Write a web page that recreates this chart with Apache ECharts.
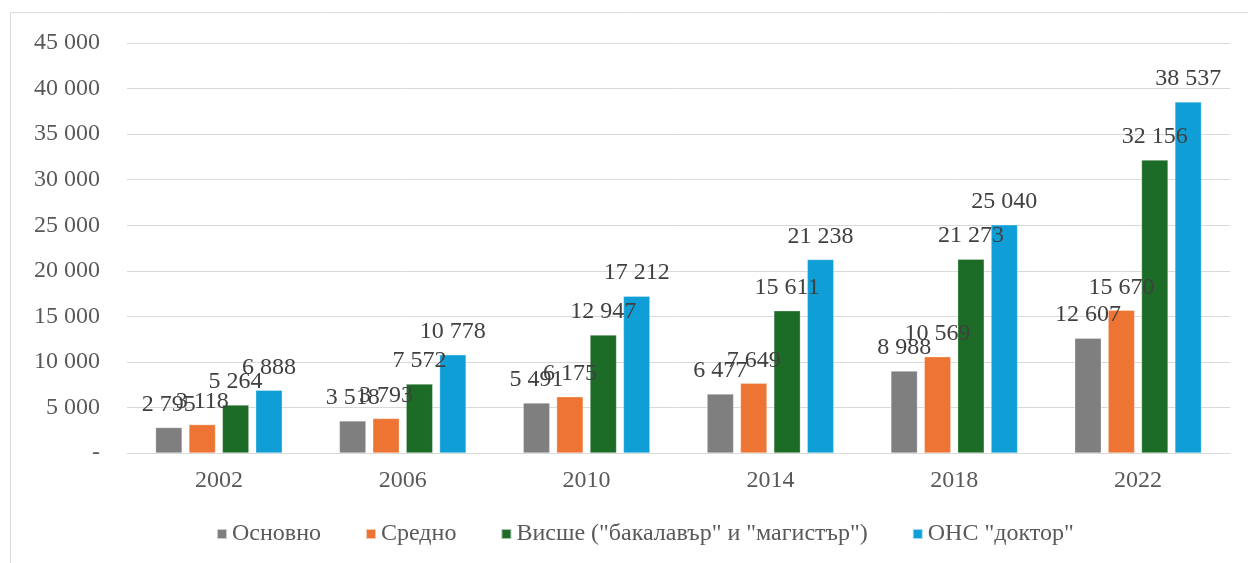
<!DOCTYPE html>
<html>
<head>
<meta charset="utf-8">
<script src="https://cdn.jsdelivr.net/npm/echarts@6/dist/echarts.min.js"></script>
<style>
  html, body { margin: 0; padding: 0; background: #fff; }
  #chart { width: 1248px; height: 563px; }
</style>
</head>
<body>
<div id="chart"></div>
<script>
// данни по години и степен на образование
const years = ['2002', '2006', '2010', '2014', '2018', '2022'];
const osnovno = [2795, 3518, 5491, 6477, 8988, 12607];
const sredno = [3118, 3793, 6175, 7649, 10569, 15670];
const vishe = [5264, 7572, 12947, 15611, 21273, 32156];
const doktor = [6888, 10778, 17212, 21238, 25040, 38537];

const seriesNames = ['Основно', 'Средно', 'Висше ("бакалавър" и "магистър")', 'ОНС "доктор"'];
const seriesColors = ['#7f7f7f', '#ed7432', '#1c6b26', '#0f9fd6'];

const FONT = '"Liberation Serif", "Times New Roman", serif';

// 12 345 -> "12 345", 0 -> "-"
function fmt(v) {
  if (v === 0) return '-';
  return String(v).replace(/\B(?=(\d{3})+(?!\d))/g, ' ');
}

const chart = echarts.init(document.getElementById('chart'));

const makeSeries = (name, data, color) => ({
  name: name,
  type: 'bar',
  data: data,
  barWidth: 26.5,
  barGap: '26%',
  itemStyle: { color: color, borderColor: 'rgba(255,255,255,0.6)', borderWidth: 0.5 },
  label: {
    show: true, position: 'top', distance: 11,
    formatter: p => fmt(p.value),
    fontFamily: FONT, fontSize: 24, color: '#404040'
  }
});

chart.setOption({
  animation: false,
  textStyle: { fontFamily: FONT },
  graphic: [{
    type: 'rect', silent: true, z: -1,
    shape: { x: 10.5, y: 12.5, width: 1300, height: 600 },
    style: { fill: 'none', stroke: '#d9d9d9', lineWidth: 1 }
  }],
  grid: { left: 127, right: 18, top: 43, bottom: 110 },
  legend: {
    bottom: 12, left: 211,
    itemWidth: 10, itemHeight: 10, itemGap: 44,
    icon: 'rect',
    textStyle: { fontFamily: FONT, fontSize: 24, color: '#595959' },
    data: seriesNames
  },
  xAxis: {
    type: 'category', data: years,
    axisLine: { lineStyle: { color: '#d9d9d9', width: 1 } },
    axisTick: { show: false },
    axisLabel: { fontFamily: FONT, fontSize: 24, color: '#595959', margin: 16 }
  },
  yAxis: {
    type: 'value', min: 0, max: 45000, interval: 5000,
    axisLine: { show: false },
    axisTick: { show: false },
    splitLine: { lineStyle: { color: '#d9d9d9', width: 1 } },
    axisLabel: { fontFamily: FONT, fontSize: 24, color: '#595959', margin: 27, formatter: fmt }
  },
  series: [
    makeSeries(seriesNames[0], osnovno, seriesColors[0]),
    makeSeries(seriesNames[1], sredno, seriesColors[1]),
    makeSeries(seriesNames[2], vishe, seriesColors[2]),
    makeSeries(seriesNames[3], doktor, seriesColors[3])
  ]
});
</script>
</body>
</html>
